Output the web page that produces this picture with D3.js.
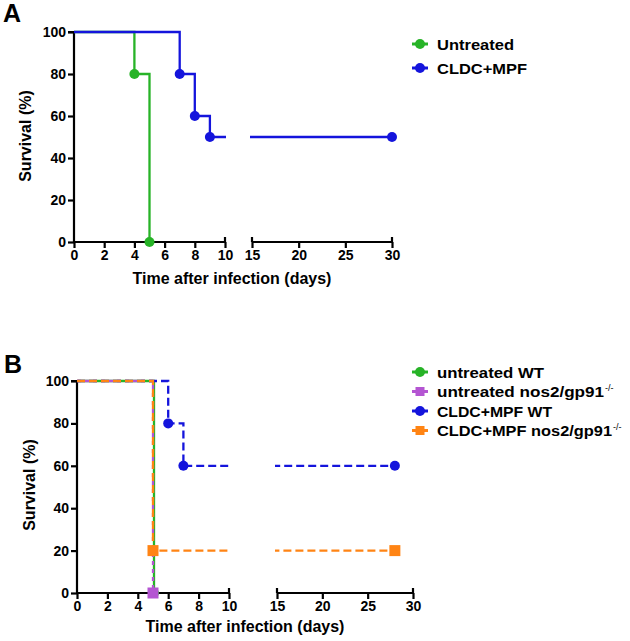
<!DOCTYPE html>
<html><head><meta charset="utf-8">
<script src="https://cdn.jsdelivr.net/npm/d3@7"></script>
<style>body{margin:0;background:#fff}svg{display:block}text{font-family:Arial,"Liberation Sans",sans-serif;font-weight:bold;fill:#000}</style>
</head><body>
<svg id="c" width="630" height="641"></svg>
<script>
// ---------- DATA ----------
const yTicks = [0, 20, 40, 60, 80, 100];
const xTicksLow = [0, 2, 4, 6, 8, 10];
const xTicksHigh = [15, 20, 25, 30];
const xTitle = "Time after infection (days)";
const yTitle = "Survival (%)";

// Panel A
const aNames = ["Untreated", "CLDC+MPF"];
const aUntreatedTimes = [0, 4, 5];
const aUntreatedSurv = [100, 80, 0];
const aCldcTimes = [0, 7, 8, 9, 30];
const aCldcSurv = [100, 80, 60, 50, 50];

// Panel B
const bNames = ["untreated WT", "untreated nos2/gp91", "CLDC+MPF WT", "CLDC+MPF nos2/gp91"];
const bSup = ["", "-/-", "", "-/-"];
const bUntWTTimes = [0, 5];
const bUntWTSurv = [100, 0];
const bUntKOTimes = [0, 5];
const bUntKOSurv = [100, 0];
const bCldcWTTimes = [0, 6, 7, 28];
const bCldcWTSurv = [100, 80, 60, 60];
const bCldcKOTimes = [0, 5, 28];
const bCldcKOSurv = [100, 20, 20];

// ---------- DRAW ----------
const svg = d3.select("#c");
const FONT_TICK = 14;

function stepPoints(times, surv) {
  const pts = [[times[0], surv[0]]];
  for (let i = 1; i < times.length; i++) {
    pts.push([times[i], surv[i - 1]]);
    pts.push([times[i], surv[i]]);
  }
  return pts;
}

function marker(g, shape, x, y, color, size) {
  if (shape === "circle") {
    g.append("circle").attr("cx", x).attr("cy", y).attr("r", size / 2).attr("fill", color);
  } else {
    g.append("rect").attr("x", x - size / 2).attr("y", y - size / 2).attr("width", size).attr("height", size).attr("fill", color);
  }
}

function panel(cfg) {
  const g = svg.append("g");
  const y = d3.scaleLinear().domain([0, 100]).range([cfg.y0, cfg.y100]);
  const x1 = d3.scaleLinear().domain([0, 10]).range([cfg.xLeft, cfg.x10]);
  const x2 = d3.scaleLinear().domain([15, 30]).range([cfg.x15, cfg.x30]);

  g.append("text").attr("x", cfg.letterX).attr("y", cfg.letterY).style("font-size", "25px").text(cfg.letter);

  const ya = g.append("g").attr("transform", `translate(${cfg.xLeft},0)`)
    .call(d3.axisLeft(y).tickValues(yTicks).tickSize(6).tickPadding(2));
  const xa1 = g.append("g").attr("transform", `translate(0,${cfg.y0})`)
    .call(d3.axisBottom(x1).tickValues(xTicksLow).tickSize(6).tickPadding(2));
  const xa2 = g.append("g").attr("transform", `translate(0,${cfg.y0})`)
    .call(d3.axisBottom(x2).tickValues(xTicksHigh).tickSize(6).tickPadding(2));
  [ya, xa1, xa2].forEach(a => {
    a.select(".domain").attr("stroke", "#000").attr("stroke-width", 2.2);
    a.selectAll(".tick line").attr("stroke", "#000").attr("stroke-width", 2.2);
    a.selectAll(".tick text").style("font-size", FONT_TICK + "px").style("font-family", "Arial,'Liberation Sans',sans-serif").style("font-weight", "bold").attr("fill", "#000");
  });
  [[x1, 10], [x2, 15], [x2, 30]].forEach(([s, v]) => {
    g.append("line").attr("x1", s(v)).attr("x2", s(v)).attr("y1", cfg.y0 - 5).attr("y2", cfg.y0).attr("stroke", "#000").attr("stroke-width", 2.2);
  });
  ya.select(".domain").attr("d", `M-6,${cfg.y100}H0V${cfg.y0}`);
  xa1.select(".domain").attr("d", `M${cfg.xLeft},0H${cfg.x10}`);
  xa2.select(".domain").attr("d", `M${cfg.x15},0H${cfg.x30}`);

  g.append("text").attr("x", cfg.xTitleX).attr("y", cfg.xTitleY).attr("text-anchor", "middle").style("font-size", "16px").text(xTitle);
  g.append("text").attr("transform", `translate(${cfg.yTitleX},${cfg.yTitleY}) rotate(-90)`).attr("text-anchor", "middle").style("font-size", "16px").text(yTitle);

  const id = cfg.letter;
  const defs = svg.append("defs");
  defs.append("clipPath").attr("id", "c1" + id).append("rect")
    .attr("x", cfg.xLeft - 2).attr("y", cfg.y100 - 10).attr("width", cfg.x10 - cfg.xLeft + 3).attr("height", cfg.y0 - cfg.y100 + 20);
  defs.append("clipPath").attr("id", "c2" + id).append("rect")
    .attr("x", cfg.x15 - 2).attr("y", cfg.y100 - 10).attr("width", cfg.x30 - cfg.x15 + 20).attr("height", cfg.y0 - cfg.y100 + 20);

  cfg.series.forEach(s => {
    const pts = stepPoints(s.times, s.surv);
    [[x1, "c1"], [x2, "c2"]].forEach(([xs, c]) => {
      const line = d3.line().x(d => xs(d[0]) + (s.dx || 0)).y(d => y(d[1]));
      g.append("path").attr("d", line(pts)).attr("fill", "none").attr("stroke", s.color)
        .attr("stroke-width", 2.3).attr("stroke-dasharray", s.dash || null)
        .attr("clip-path", `url(#${c + id})`);
    });
  });
  cfg.series.forEach(s => {
    for (let i = 1; i < s.times.length; i++) {
      const t = s.times[i];
      const px = t <= 10 ? x1(t) : x2(t);
      marker(g, s.shape, px + (s.dx || 0), y(s.surv[i]), s.color, s.size);
    }
  });

  cfg.series.forEach((s, i) => {
    const cy = cfg.legY + i * cfg.legStep;
    g.append("line").attr("x1", 412).attr("x2", 428).attr("y1", cy).attr("y2", cy).attr("stroke", s.color).attr("stroke-width", 3);
    marker(g, s.shape, 420, cy, s.color, s.shape === "circle" ? 10 : 9);
    g.append("text").attr("x", 437).attr("y", cy + 5.5).style("font-size", cfg.legFont + "px")
      .attr("textLength", s.legW).attr("lengthAdjust", "spacingAndGlyphs").text(s.name);
    if (s.sup) {
      g.append("text").attr("x", 437 + s.legW + 1).attr("y", cy - 1).style("font-size", "9px").style("font-weight", "normal").text(s.sup);
    }
  });
}

panel({
  letter: "A", letterX: 3, letterY: 22,
  xLeft: 74, x10: 225, x15: 252, x30: 392, y0: 242, y100: 32,
  xTitleX: 232, xTitleY: 284, yTitleX: 31, yTitleY: 136,
  legY: 44, legStep: 24, legFont: 15.5,
  series: [
    { name: aNames[0], times: aUntreatedTimes, surv: aUntreatedSurv, color: "#27b327", shape: "circle", size: 10, legW: 77 },
    { name: aNames[1], times: aCldcTimes, surv: aCldcSurv, color: "#1414dc", shape: "circle", size: 10, legW: 90 }
  ]
});

panel({
  letter: "B", letterX: 4, letterY: 373,
  xLeft: 77, x10: 229, x15: 277, x30: 413, y0: 593, y100: 381,
  xTitleX: 245, xTitleY: 632, yTitleX: 35, yTitleY: 485,
  legY: 372, legStep: 19.5, legFont: 14,
  series: [
    { name: bNames[0], times: bUntWTTimes, surv: bUntWTSurv, color: "#27b327", shape: "circle", size: 10, legW: 107, dx: 1 },
    { name: bNames[1], times: bUntKOTimes, surv: bUntKOSurv, color: "#b455d2", shape: "square", size: 11, dash: "4,4", legW: 167, sup: bSup[1] },
    { name: bNames[2], times: bCldcWTTimes, surv: bCldcWTSurv, color: "#1414dc", shape: "circle", size: 10, dash: "8,4", legW: 115 },
    { name: bNames[3], times: bCldcKOTimes, surv: bCldcKOSurv, color: "#ff8414", shape: "square", size: 11, dash: "8,4", legW: 175, sup: bSup[3] }
  ]
});
</script>
</body></html>
